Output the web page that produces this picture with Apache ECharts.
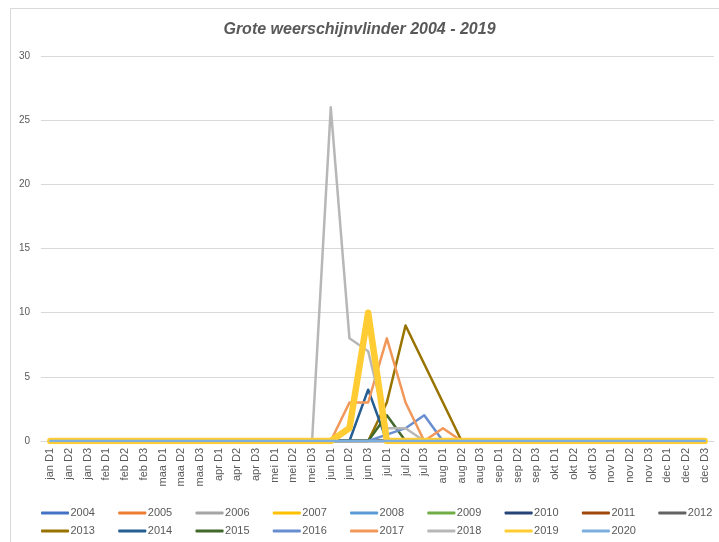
<!DOCTYPE html>
<html>
<head>
<meta charset="utf-8">
<script src="https://cdn.jsdelivr.net/npm/echarts@6/dist/echarts.min.js"></script>
<style>html,body{margin:0;padding:0;background:#fff}#c{width:719px;height:542px}</style>
</head>
<body>
<div id="c"></div>
<script>
const categories = ["jan D1","jan D2","jan D3","feb D1","feb D2","feb D3","maa D1","maa D2","maa D3","apr D1","apr D2","apr D3","mei D1","mei D2","mei D3","jun D1","jun D2","jun D3","jul D1","jul D2","jul D3","aug D1","aug D2","aug D3","sep D1","sep D2","sep D3","okt D1","okt D2","okt D3","nov D1","nov D2","nov D3","dec D1","dec D2","dec D3"];
const years = ["2004","2005","2006","2007","2008","2009","2010","2011","2012","2013","2014","2015","2016","2017","2018","2019","2020"];
const colors = ["#4472C4","#ED7D31","#A5A5A5","#FFC000","#5B9BD5","#70AD47","#264478","#9E480E","#636363","#997300","#255E91","#43682B","#698ED0","#F1975A","#B7B7B7","#FFCD33","#7CAFDD"];

const y2004 = [0,0,0,0,0,0,0,0,0,0,0,0,0,0,0,0,0,0,0,0,0,0,0,0,0,0,0,0,0,0,0,0,0,0,0,0];
const y2005 = [0,0,0,0,0,0,0,0,0,0,0,0,0,0,0,0,0,0,0,0,0,0,0,0,0,0,0,0,0,0,0,0,0,0,0,0];
const y2006 = [0,0,0,0,0,0,0,0,0,0,0,0,0,0,0,0,0,0,0,0,0,0,0,0,0,0,0,0,0,0,0,0,0,0,0,0];
const y2007 = [0,0,0,0,0,0,0,0,0,0,0,0,0,0,0,0,0,0,0,0,0,0,0,0,0,0,0,0,0,0,0,0,0,0,0,0];
const y2008 = [0,0,0,0,0,0,0,0,0,0,0,0,0,0,0,0,0,0,0,0,0,0,0,0,0,0,0,0,0,0,0,0,0,0,0,0];
const y2009 = [0,0,0,0,0,0,0,0,0,0,0,0,0,0,0,0,0,0,0,0,0,0,0,0,0,0,0,0,0,0,0,0,0,0,0,0];
const y2010 = [0,0,0,0,0,0,0,0,0,0,0,0,0,0,0,0,0,0,0,0,0,0,0,0,0,0,0,0,0,0,0,0,0,0,0,0];
const y2011 = [0,0,0,0,0,0,0,0,0,0,0,0,0,0,0,0,0,0,0,0,0,0,0,0,0,0,0,0,0,0,0,0,0,0,0,0];
const y2012 = [0,0,0,0,0,0,0,0,0,0,0,0,0,0,0,0,0,0,0,0,0,0,0,0,0,0,0,0,0,0,0,0,0,0,0,0];
const y2013 = [0,0,0,0,0,0,0,0,0,0,0,0,0,0,0,0,0,0,3,9,6,3,0,0,0,0,0,0,0,0,0,0,0,0,0,0];
const y2014 = [0,0,0,0,0,0,0,0,0,0,0,0,0,0,0,0,0,4,0,0,0,0,0,0,0,0,0,0,0,0,0,0,0,0,0,0];
const y2015 = [0,0,0,0,0,0,0,0,0,0,0,0,0,0,0,0,0,0,2,0,0,0,0,0,0,0,0,0,0,0,0,0,0,0,0,0];
const y2016 = [0,0,0,0,0,0,0,0,0,0,0,0,0,0,0,0,0,0,0.5,1,2,0,0,0,0,0,0,0,0,0,0,0,0,0,0,0];
const y2017 = [0,0,0,0,0,0,0,0,0,0,0,0,0,0,0,0,3,3,8,3,0,1,0,0,0,0,0,0,0,0,0,0,0,0,0,0];
const y2018 = [0,0,0,0,0,0,0,0,0,0,0,0,0,0,0,26,8,7,1,1,0,0,0,0,0,0,0,0,0,0,0,0,0,0,0,0];
const y2019 = [0,0,0,0,0,0,0,0,0,0,0,0,0,0,0,0,1,10,0,0,0,0,0,0,0,0,0,0,0,0,0,0,0,0,0,0];
const y2020 = [0,0,0,0,0,0,0,0,0,0,0,0,0,0,0,0,0,0,0,0,0,0,0,0,0,0,0,0,0,0,0,0,0,0,0,0];
const seriesData = [y2004,y2005,y2006,y2007,y2008,y2009,y2010,y2011,y2012,y2013,y2014,y2015,y2016,y2017,y2018,y2019,y2020];

const FONT = "'Liberation Sans', Arial, sans-serif";
const chart = echarts.init(document.getElementById('c'), null, {renderer: 'canvas'});

const series = years.map((y, i) => ({
  name: y,
  type: 'line',
  data: seriesData[i],
  symbol: 'none',
  smooth: false,
  z: 2 + i,
  lineStyle: {color: colors[i], width: y === '2019' ? 6.5 : 2.5, cap: 'round', join: 'round'},
  itemStyle: {color: colors[i]},
  emphasis: {disabled: true}
}));

const legendData = (arr) => arr.map(y => ({
  name: y,
  icon: 'roundRect',
  itemStyle: {color: colors[years.indexOf(y)]}
}));

const legendCommon = {
  left: 41,
  width: 700,
  padding: 0,
  orient: 'horizontal',
  itemWidth: 28,
  itemHeight: 3,
  itemGap: 23.3,
  textStyle: {fontFamily: FONT, fontSize: 11, color: '#595959', padding: [0,0,0,-3.5]},
  selectedMode: false
};

chart.setOption({
  animation: false,
  backgroundColor: '#fff',
  color: colors,
  title: {
    text: 'Grote weerschijnvlinder 2004 - 2019',
    left: 'center',
    top: 17,
    textStyle: {fontFamily: FONT, fontSize: 16, fontStyle: 'italic', fontWeight: 'bold', color: '#595959'}
  },
  graphic: [{
    type: 'rect', left: 8, top: 6, silent: true,
    shape: {width: 800, height: 600},
    style: {fill: 'none', stroke: '#D9D9D9', lineWidth: 1}
  }],
  legend: [
    Object.assign({}, legendCommon, {top: 507.5, data: legendData(years.slice(0, 9))}),
    Object.assign({}, legendCommon, {top: 525.5, data: legendData(years.slice(9))})
  ],
  grid: {left: 41, right: 5, top: 56, bottom: 101, containLabel: false},
  xAxis: {
    type: 'category',
    data: categories,
    boundaryGap: true,
    axisLine: {show: true, lineStyle: {color: '#D9D9D9', width: 1}},
    axisTick: {show: false},
    axisLabel: {rotate: 90, interval: 0, margin: 7, fontFamily: FONT, fontSize: 11, color: '#595959'}
  },
  yAxis: {
    type: 'value',
    min: 0, max: 30, interval: 5,
    axisLine: {show: false},
    axisTick: {show: false},
    splitLine: {lineStyle: {color: '#D9D9D9', width: 1}},
    axisLabel: {margin: 11, fontFamily: FONT, fontSize: 10, color: '#595959'}
  },
  series: series
});
</script>
</body>
</html>
